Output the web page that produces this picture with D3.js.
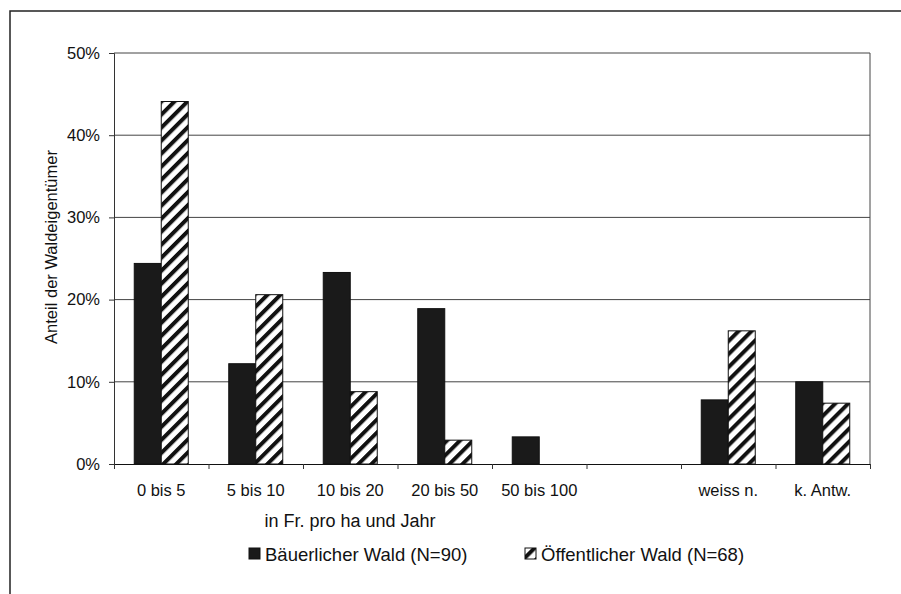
<!DOCTYPE html>
<html>
<head>
<meta charset="utf-8">
<script src="https://cdn.jsdelivr.net/npm/d3@7"></script>
<style>
  html, body { margin: 0; padding: 0; background: #fff; }
  svg { display: block; font-family: "Liberation Sans", Arial, sans-serif; }
</style>
</head>
<body>
<svg id="chart" width="901" height="594"></svg>
<script>
// Zahlungsbereitschaft in Fr. pro ha und Jahr, Anteil der Waldeigentümer in %
const categories = ["0 bis 5", "5 bis 10", "10 bis 20", "20 bis 50", "50 bis 100", "", "weiss n.", "k. Antw."];
const bauerlich   = [24.4, 12.2, 23.3, 18.9, 3.3, 0, 7.8, 10.0];
const oeffentlich = [44.1, 20.6, 8.8, 2.9, 0, 0, 16.2, 7.4];
const seriesNames = ["Bäuerlicher Wald (N=90)", "Öffentlicher Wald (N=68)"];
const yTicks = [0, 10, 20, 30, 40, 50];

const svg = d3.select("#chart");
const font = 16.5;
const ink = "#111";

const plot = { left: 114, right: 870, top: 53, bottom: 464 };

// hatch pattern for the public forest series
const defs = svg.append("defs");
const pat = defs.append("pattern")
  .attr("id", "hatch")
  .attr("patternUnits", "userSpaceOnUse")
  .attr("width", 9.2).attr("height", 9.2)
  .attr("patternTransform", "rotate(45)");
pat.append("rect").attr("width", 9.2).attr("height", 9.2).attr("fill", "#fff");
pat.append("rect").attr("width", 4).attr("height", 9.2).attr("fill", "#111");

// outer frame
svg.append("path")
  .attr("d", "M10,594 V11 H901")
  .attr("fill", "none").attr("stroke", "#222").attr("stroke-width", 1.5);

const x = d3.scaleBand().domain(d3.range(categories.length))
  .range([plot.left, plot.right]).paddingInner(0).paddingOuter(0);
const xs = d3.scaleBand().domain([0, 1]).range([0, x.bandwidth()])
  .paddingInner(0).paddingOuter(0.75);
const xEdge = d3.scaleLinear().domain([0, categories.length]).range([plot.left, plot.right]);
const y = d3.scaleLinear().domain([0, 50]).range([plot.bottom, plot.top]);

// gridlines
svg.append("g").selectAll("line").data(yTicks.filter(d => d > 0)).join("line")
  .attr("x1", plot.left).attr("x2", plot.right)
  .attr("y1", d => y(d)).attr("y2", d => y(d))
  .attr("stroke", "#444").attr("stroke-width", 1);

// right border of plot area
svg.append("line")
  .attr("x1", plot.right).attr("x2", plot.right)
  .attr("y1", plot.top).attr("y2", plot.bottom)
  .attr("stroke", "#444").attr("stroke-width", 1);

// bars
const series = [
  { values: bauerlich, fill: "#1a1a1a" },
  { values: oeffentlich, fill: "url(#hatch)" }
];
series.forEach((s, si) => {
  svg.append("g").selectAll("rect")
    .data(s.values.map((v, i) => ({ v, i })).filter(d => d.v > 0))
    .join("rect")
    .attr("x", d => x(d.i) + xs(si))
    .attr("y", d => y(d.v))
    .attr("width", xs.bandwidth())
    .attr("height", d => y(0) - y(d.v))
    .attr("fill", s.fill)
    .attr("stroke", ink).attr("stroke-width", 1);
});

// y axis
const yAxis = svg.append("g")
  .attr("transform", `translate(${plot.left},0)`)
  .call(d3.axisLeft(y).tickValues(yTicks).tickSize(5).tickPadding(9).tickFormat(d => d + "%"));
yAxis.select(".domain").attr("stroke", "#333");
yAxis.selectAll(".tick line").attr("stroke", "#333");
yAxis.selectAll("text").attr("font-size", font).attr("font-family", "Liberation Sans, Arial, sans-serif").attr("fill", ink);

// x axis: tick marks at category boundaries
const xAxis = svg.append("g")
  .attr("transform", `translate(0,${plot.bottom})`)
  .call(d3.axisBottom(xEdge).tickValues(d3.range(categories.length + 1)).tickSize(5).tickFormat(""));
xAxis.select(".domain").attr("stroke", ink);
xAxis.selectAll(".tick line").attr("stroke", "#333");

// x category labels
const xLab = svg.append("g")
  .attr("transform", `translate(0,${plot.bottom})`)
  .call(d3.axisBottom(x).tickSize(0).tickPadding(20).tickFormat(i => categories[i]));
xLab.select(".domain").remove();
xLab.selectAll("text").attr("font-size", font).attr("font-family", "Liberation Sans, Arial, sans-serif").attr("fill", ink);

// axis titles
svg.append("text")
  .attr("transform", "translate(51,247) rotate(-90)")
  .attr("text-anchor", "middle").attr("dy", "0.35em")
  .attr("font-size", font).attr("fill", ink)
  .text("Anteil der Waldeigentümer");

svg.append("text")
  .attr("x", 350).attr("y", 527)
  .attr("text-anchor", "middle")
  .attr("font-size", 18).attr("fill", ink)
  .text("in Fr. pro ha und Jahr");

// legend
const legend = svg.append("g");
const legendItems = [
  { name: seriesNames[0], fill: "#1a1a1a", x: 249 },
  { name: seriesNames[1], fill: "url(#hatch)", x: 525 }
];
legendItems.forEach(it => {
  legend.append("rect")
    .attr("x", it.x).attr("y", 548).attr("width", 11).attr("height", 11)
    .attr("fill", it.fill).attr("stroke", ink).attr("stroke-width", 1);
  legend.append("text")
    .attr("x", it.x + 16).attr("y", 561)
    .attr("font-size", 18.5).attr("fill", ink)
    .text(it.name);
});
</script>
</body>
</html>
